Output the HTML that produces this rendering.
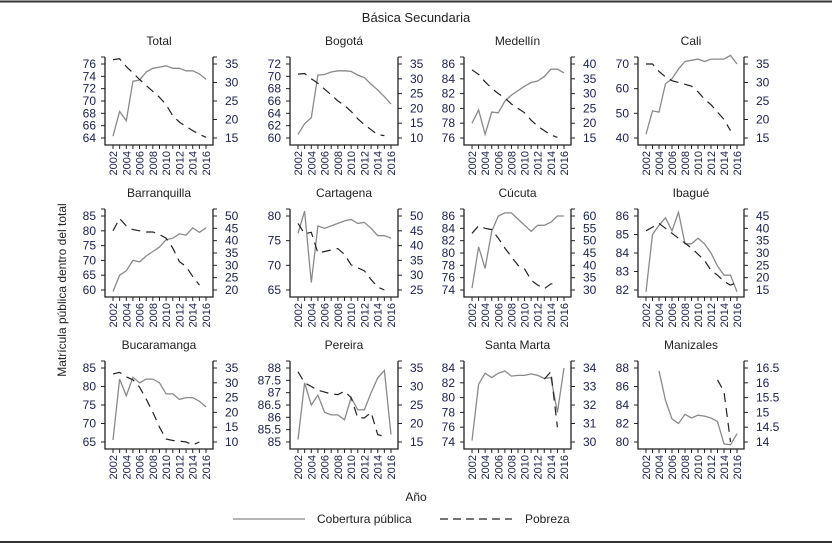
<!DOCTYPE html>
<html><head><meta charset="utf-8"><style>
html,body{margin:0;padding:0;background:#fff;}
svg{display:block;font-family:"Liberation Sans",sans-serif;}
</style></head><body>
<svg id="chart" width="832" height="545" viewBox="0 0 832 545">
<line x1="0" y1="1.5" x2="832" y2="1.5" stroke="#333" stroke-width="2"/>
<line x1="0" y1="542" x2="832" y2="542" stroke="#333" stroke-width="2"/>
<text x="416" y="22" text-anchor="middle" font-size="13" fill="#222">Básica Secundaria</text>
<text transform="translate(66,290) rotate(-90)" text-anchor="middle" font-size="12" fill="#222">Matrícula pública dentro del total</text>
<text x="416" y="501" text-anchor="middle" font-size="12" fill="#222">Año</text>
<g>
<line x1="233" y1="519" x2="305" y2="519" stroke="#888" stroke-width="1.2"/>
<text x="317" y="523" font-size="12" fill="#222">Cobertura pública</text>
<line x1="440" y1="519" x2="512" y2="519" stroke="#222" stroke-width="1.2" stroke-dasharray="8,5"/>
<text x="525" y="523" font-size="12" fill="#222">Pobreza</text>
</g>
<g id="panels"></g>
</svg>
<script>
const years = [2002,2003,2004,2005,2006,2007,2008,2009,2010,2011,2012,2013,2014,2015,2016];
const panelNames = ["Total","Bogotá","Medellín","Cali","Barranquilla","Cartagena","Cúcuta","Ibagué","Bucaramanga","Pereira","Santa Marta","Manizales"];
const coverage = [
 [64.3,68.3,66.8,73.2,73.4,74.7,75.3,75.5,75.7,75.3,75.3,74.9,74.9,74.4,73.5],
 [60.6,62.3,63.3,70.2,70.3,70.7,70.9,70.9,70.8,70.2,69.8,68.7,67.8,66.7,65.5],
 [78,79.8,76.5,79.5,79.4,81,81.8,82.4,83,83.5,83.7,84.3,85.3,85.3,84.8],
 [41.5,51,50.5,62,64,68,71,71.5,72,71,72,72,72,73.5,70],
 [59.5,65,66.5,70,69.5,71.5,73,74.5,77,77.5,79,78.5,81,79.5,81],
 [76.5,81,66.5,78,77.5,78,78.5,79,79.3,78.5,78.7,77.5,76,76,75.5],
 [74.3,81,77.5,83.5,86,86.5,86.5,85.5,84.5,83.5,84.5,84.5,85,86,86],
 [81.9,85,85.5,85.9,85.2,86.2,84.5,84.5,84.8,84.5,84,83.3,82.8,82.8,81.9],
 [65.5,82,77.5,82.5,81,82,82,81,78,78,76.5,77,77,76,74.5],
 [85.1,87.4,86.5,86.9,86.2,86.1,86.1,85.9,86.8,86.3,86.3,87,87.6,87.9,85.3],
 [74.2,81.8,83.3,82.7,83.3,83.6,82.9,83,83,83.2,83,82.6,82.7,78,84],
 [null,null,87.7,84.5,82.5,82,83,82.6,82.9,82.8,82.6,82.2,79.8,79.7,80.9]
];
const poverty = [
 [36.2,36.4,34.3,32.6,30.8,29.2,27.6,26,24,21,19.3,18.1,17,16,15.2],
 [31.6,31.8,30,28.5,26.5,24.6,22.5,21,19,16.5,14.5,12.8,11.1,10.8,null],
 [38,36.5,34,31.8,30,28.5,26.5,25,23.5,21,19,17.5,16,15.2,null],
 [35,35,33,31.5,30.5,30,29.5,29,27.5,25.5,24,22,20,17,null],
 [44,49,46,44.5,44,43.5,43.5,42.5,41,37,31.5,29.5,25.5,22,null],
 [47.5,44,44.5,37.5,38,38.5,39,37,33.5,32.5,31.5,28.5,26,25,null],
 [53,56,55,54.5,51,47,43.5,40,38.5,34,32,30.5,32.5,32.5,null],
 [39,40.5,42,40,38,36,34,32,29.5,27,23,21,18.5,17,18],
 [33,33.5,32,31,28.5,24.5,20,15,11,10.5,10.3,10,9,10,null],
 [34,31,30,29,28.5,28,27.8,28.7,27,21.5,21.5,23,17,16.5,null],
 [null,null,null,null,null,null,null,null,null,null,null,33.4,33.8,30.8,null],
 [null,null,null,null,null,null,null,null,null,null,null,16.1,15.7,14.0,null]
];
const leftTicks = [
 [64,66,68,70,72,74,76],[60,62,64,66,68,70,72],[76,78,80,82,84,86],[40,50,60,70],
 [60,65,70,75,80,85],[65,70,75,80],[74,76,78,80,82,84,86],[82,83,84,85,86],
 [65,70,75,80,85],[85,85.5,86,86.5,87,87.5,88],[74,76,78,80,82,84],[80,82,84,86,88]
];
const rightTicks = [
 [15,20,25,30,35],[10,15,20,25,30,35],[15,20,25,30,35,40],[15,20,25,30,35],
 [20,25,30,35,40,45,50],[25,30,35,40,45,50],[30,35,40,45,50,55,60],[15,20,25,30,35,40,45],
 [10,15,20,25,30,35],[15,20,25,30,35],[30,31,32,33,34],[14,14.5,15,15.5,16,16.5]
];
const colX = [[105,213],[290,398],[464,571],[638,744]];
const rowY = [[57,145],[209,297],[361,449]];
const NS = "http://www.w3.org/2000/svg";
const root = document.getElementById('panels');
function mk(tag, attrs, parent){const e=document.createElementNS(NS,tag);for(const k in attrs)e.setAttribute(k,attrs[k]);parent.appendChild(e);return e;}
function linePath(vals, xs, ys){let d="",pen=false;vals.forEach((v,i)=>{if(v===null){pen=false;return;}d+=(pen?"L":"M")+xs(years[i]).toFixed(1)+","+ys(v).toFixed(1);pen=true;});return d;}
panelNames.forEach((name,p)=>{
  const c=p%4,r=Math.floor(p/4);
  const [x0,x1]=colX[c],[y0,y1]=rowY[r];
  const g=mk('g',{},root);
  
  
  const xs=y=>x0+8+(y-years[0])*(x1-x0-15)/(years[years.length-1]-years[0]);
  const lt=leftTicks[p],rt=rightTicks[p];
  const mkScale=t=>{const a=Math.min(...t),b=Math.max(...t);return v=>(y1-7)-(v-a)*((y1-y0-14)/(b-a));};
  const ysL=mkScale(lt),ysR=mkScale(rt);
  const t=mk('text',{x:(x0+x1)/2,y:y0-12,'text-anchor':'middle','font-size':12,fill:'#222'},g);
  t.textContent=name;
  
  
  const frame=mk('path',{d:`M${x0},${y0}V${y1}H${x1}V${y0}`,fill:'none',stroke:'#222','stroke-width':1.3},g);
  
  
  mk('path',{d:`M${x0},${y0}h-4M${x1},${y0}h4`,stroke:'#222','stroke-width':1},g);
  lt.forEach(v=>{
    const y=ysL(v);
    mk('line',{x1:x0,x2:x0-4,y1:y,y2:y,stroke:'#222'},g);
    const tx=mk('text',{x:x0-9,y:y+4,'text-anchor':'end','font-size':12,fill:'#1a1f4a'},g);
    tx.textContent=v;
    
    
  });
  rt.forEach(v=>{
    const y=ysR(v);
    mk('line',{x1:x1,x2:x1+4,y1:y,y2:y,stroke:'#222'},g);
    const tx=mk('text',{x:x1+12,y:y+4,'text-anchor':'start','font-size':12,fill:'#1a1f4a'},g);
    tx.textContent=v;
    
    
  });
  years.forEach((yr,i)=>{
    const x=xs(yr);
    mk('line',{x1:x,x2:x,y1:y1,y2:y1+4,stroke:'#222'},g);
    if(i%2===0){
      const tx=mk('text',{transform:`translate(${x+4},${y1+6}) rotate(-90)`,'text-anchor':'end','font-size':11,fill:'#1a1f4a'},g);
      tx.textContent=yr;
      
      
    }
  });
  const cov=mk('path',{d:linePath(coverage[p],xs,ysL),fill:'none',stroke:'#8a8a8a','stroke-width':1.3},g);
  
  
  const pov=mk('path',{d:linePath(poverty[p],xs,ysR),fill:'none',stroke:'#222','stroke-width':1.2,'stroke-dasharray':'9,6'},g);
  
  
});
</script>
</body></html>
